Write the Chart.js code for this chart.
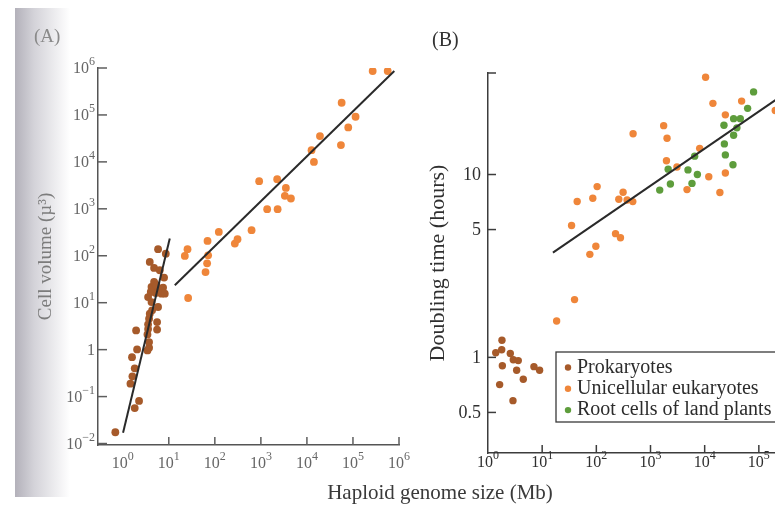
<!DOCTYPE html>
<html>
<head>
<meta charset="utf-8">
<script src="https://cdn.jsdelivr.net/npm/chart.js@4.4.1/dist/chart.umd.min.js"></script>
<style>
    html, body { margin: 0; padding: 0; width: 775px; height: 507px; overflow: hidden; background: #fff; }
    #pagina { position: relative; width: 775px; height: 507px; overflow: hidden; font-family: "Liberation Serif", serif; }
    /* sombra del lomo del libro escaneado */
    #sombra { position: absolute; left: 15px; top: 8px; width: 55px; height: 489px;
              background: linear-gradient(to right, #b3b1ba, #d4d3d9 35%, #ffffff); }
    #graficoA { position: absolute; left: 0; top: 0; }
    #graficoB { position: absolute; left: 413px; top: 0; }
    .rotulo { position: absolute; white-space: nowrap; line-height: 1; }
</style>
</head>
<body>
<div id="pagina">
    <div id="sombra"></div>
    <canvas id="graficoA" width="420" height="507"></canvas>
    <canvas id="graficoB" width="430" height="507"></canvas>
    <div class="rotulo" style="left:34px; top:26px; font-size:19px; color:#8a8a8a;">(A)</div>
    <div class="rotulo" style="left:432px; top:29px; font-size:20px; color:#333;">(B)</div>
    <div class="rotulo" style="left:440px; top:482px; font-size:21px; color:#3a3a3a; transform:translateX(-50%);">Haploid genome size (Mb)</div>
</div>
<script>
// Series
const SERIES = ['Prokaryotes', 'Unicellular eukaryotes', 'Root cells of land plants'];

// Panel A: volumen celular vs tamaño del genoma
const A_PROK_GENOMA = [0.69, 1.82, 2.26, 1.47, 1.62, 1.82, 1.59, 2.05, 1.95, 3.44, 3.73, 3.73, 3.44, 3.55, 3.55, 3.73, 3.86, 4.34, 5.57, 5.57,
                       5.85, 3.55, 4.21, 4.56, 4.21, 4.96, 5.21, 6.06, 6.94, 7.52, 8.19, 7.90, 4.79, 4.79, 3.86, 6.37, 5.85, 8.61, 4.06, 5.40];
const A_PROK_VOLUMEN = [0.0174, 0.057, 0.081, 0.188, 0.27, 0.40, 0.69, 1.01, 2.57, 0.96, 1.10, 1.45, 2.11, 2.74, 3.46, 4.57, 5.85, 6.88, 3.87, 2.67,
                        8.09, 13.2, 10.3, 18.4, 21.6, 25.5, 16.1, 20.0, 15.6, 21.0, 15.6, 34.3, 27.6, 55, 73.8, 49.1, 138, 111, 16.9, 23.5];
const A_EUK_GENOMA = [26.3, 22.3, 25.5, 62.8, 68, 71.5, 69.4, 122, 272, 311, 628, 918, 1370, 2310, 2260, 3490, 3320, 4490,
                      14200, 12600, 19200, 54800, 56800, 79000, 114000, 268000, 568000];
const A_EUK_VOLUMEN = [12.6, 99, 138, 45, 69, 102, 207, 322, 182, 225, 350, 3880, 982, 982, 4290, 2790, 1890, 1660,
                       10000, 17800, 35400, 22800, 182000, 54300, 91400, 863000, 863000];
const A_AJUSTE_PROK_X = [1.015, 10.5];
const A_AJUSTE_PROK_Y = [0.0169, 233];
const A_AJUSTE_EUK_X = [13.5, 791000];
const A_AJUSTE_EUK_Y = [23.5, 863000];

// Panel B: tiempo de duplicación vs tamaño del genoma
const B_PROK_GENOMA = [1.39, 1.81, 1.79, 1.84, 1.64, 2.58, 2.93, 3.62, 3.38, 4.48, 2.89, 7.05, 8.97];
const B_PROK_TIEMPO = [1.06, 1.24, 1.10, 0.90, 0.71, 1.05, 0.97, 0.96, 0.85, 0.76, 0.58, 0.89, 0.85];
const B_EUK_GENOMA = [18.5, 39.6, 75.9, 98, 34.9, 44.3, 86, 103.5, 226, 279, 260, 312, 370, 471, 477, 1750, 2020, 1970, 3080,
                      4720, 8090, 10400, 14200, 11900, 19100, 24100, 24100, 48100, 201000];
const B_EUK_TIEMPO = [1.58, 2.07, 3.66, 4.05, 5.26, 7.12, 7.41, 8.59, 4.75, 4.51, 7.33, 8.0, 7.26, 7.11, 16.7, 18.5, 15.8, 11.9, 11.0,
                      8.27, 13.9, 34.0, 24.5, 9.72, 7.98, 21.2, 10.2, 25.2, 22.4];
const B_RAIZ_GENOMA = [1480, 2330, 2120, 4920, 7330, 5830, 6540, 22700, 23100, 24100, 33300, 34200, 45500, 39400, 34200, 62100, 80000];
const B_RAIZ_TIEMPO = [8.22, 8.87, 10.7, 10.6, 10.0, 8.94, 12.6, 18.6, 14.7, 12.8, 11.3, 20.2, 20.2, 18.0, 16.4, 23.0, 28.3];
const B_AJUSTE_X = [15.8, 400000];
const B_AJUSTE_Y = [3.74, 29.3];

// Marcas de los ejes
const A_MARCAS_X = [10, 1e2, 1e3, 1e4, 1e5, 1e6];
const A_ETIQUETAS_X = [1, 10, 1e2, 1e3, 1e4, 1e5, 1e6];
const A_ETIQUETAS_Y = [1e-2, 1e-1, 1, 10, 1e2, 1e3, 1e4, 1e5, 1e6];
const B_MARCAS_X = [10, 1e2, 1e3, 1e4, 1e5, 1e6];
const B_ETIQUETAS_X = [1, 10, 1e2, 1e3, 1e4, 1e5, 1e6];
const B_ETIQUETAS_Y = [0.5, 1, 5, 10];

const MARRON = '#a65a2a';
const NARANJA = '#ef863a';
const VERDE = '#5e9d3c';
const LINEA = '#2a2a2a';
const SERIF = '"Liberation Serif", "Times New Roman", serif';

const pares = (xs, ys) => xs.map((x, i) => ({ x: x, y: ys[i] }));

// Dibuja "10" con exponente, o el número tal cual
function dibujarEtiqueta(ctx, valor, conf, x, y, alineacion) {
    const exp = Math.round(Math.log10(valor));
    let partes;
    if (conf.potencias && !(conf.unoPlano && exp === 0)) {
        partes = [['10', conf.tam, 0], [String(exp).replace('-', '\u2212'), conf.tamExp, conf.subida]];
    } else {
        partes = [[String(valor), conf.tam, 0]];
    }
    let ancho = 0;
    partes.forEach(p => { ctx.font = p[1] + 'px ' + SERIF; p.push(ctx.measureText(p[0]).width); ancho += p[3]; });
    let cursor = alineacion === 'centro' ? x - ancho / 2 : x - ancho;
    ctx.textAlign = 'left';
    ctx.textBaseline = 'alphabetic';
    partes.forEach(p => {
        ctx.font = p[1] + 'px ' + SERIF;
        ctx.fillText(p[0], cursor, y - p[2]);
        cursor += p[3];
    });
}

// Marcas hacia adentro y etiquetas con superíndice
const pluginEjes = {
    id: 'ejes',
    afterDatasetsDraw(chart, args, opts) {
        const ctx = chart.ctx;
        const area = chart.chartArea;
        ctx.save();
        ctx.strokeStyle = opts.color;
        ctx.fillStyle = opts.colorTexto;
        ctx.lineWidth = opts.grosor;

        const ex = chart.scales.x;
        opts.x.marcas.forEach(v => {
            const p = ex.getPixelForValue(v);
            ctx.beginPath(); ctx.moveTo(p, area.bottom); ctx.lineTo(p, area.bottom - opts.x.largo); ctx.stroke();
        });
        opts.x.etiquetas.forEach(v => dibujarEtiqueta(ctx, v, opts.x, ex.getPixelForValue(v), area.bottom + opts.x.distancia, 'centro'));

        const ey = chart.scales.y;
        const marcasY = opts.y.tapa ? opts.y.etiquetas.concat([ey.max]) : opts.y.etiquetas;
        marcasY.forEach(v => {
            const p = ey.getPixelForValue(v);
            ctx.beginPath(); ctx.moveTo(area.left, p); ctx.lineTo(area.left + opts.y.largo, p); ctx.stroke();
        });
        opts.y.etiquetas.forEach(v => dibujarEtiqueta(ctx, v, opts.y, area.left - opts.y.distancia, ey.getPixelForValue(v) + opts.y.tam * 0.33, 'derecha'));
        ctx.restore();
    }
};

// Recuadro de leyenda dentro del área del gráfico
const pluginLeyenda = {
    id: 'leyendaCaja',
    afterDraw(chart, args, opts) {
        if (!opts.mostrar) return;
        const ctx = chart.ctx;
        const x0 = chart.chartArea.left + opts.dx;
        const y0 = chart.chartArea.top + opts.dy;
        ctx.save();
        ctx.fillStyle = '#fff';
        ctx.fillRect(x0, y0, opts.ancho, opts.alto);
        ctx.strokeStyle = '#3a3a3a';
        ctx.lineWidth = 1.3;
        ctx.strokeRect(x0, y0, opts.ancho, opts.alto);
        ctx.font = opts.tam + 'px ' + SERIF;
        ctx.textBaseline = 'alphabetic';
        ctx.textAlign = 'left';
        opts.items.forEach((item, i) => {
            const yc = y0 + opts.primera + i * opts.paso;
            ctx.fillStyle = item.color;
            ctx.beginPath(); ctx.arc(x0 + 12, yc, 3.2, 0, 2 * Math.PI); ctx.fill();
            ctx.fillStyle = '#2c2c2c';
            ctx.fillText(item.texto, x0 + 21, yc + 5);
        });
        ctx.restore();
    }
};

function puntos(etiqueta, datos, color, radio) {
    return { label: etiqueta, data: datos, backgroundColor: color, borderWidth: 0, pointRadius: radio, pointHoverRadius: radio, order: 1 };
}

function recta(datos) {
    return { label: 'ajuste', data: datos, showLine: true, borderColor: LINEA, borderWidth: 2, pointRadius: 0, fill: false, order: 0 };
}

function escalaLog(min, max, extra) {
    return Object.assign({
        type: 'logarithmic', min: min, max: max,
        grid: { display: false },
        border: { display: true, color: '#555', width: 1.5 },
        ticks: { display: false }
    }, extra);
}

// Panel A
new Chart(document.getElementById('graficoA'), {
    type: 'scatter',
    data: {
        datasets: [
            recta(pares(A_AJUSTE_PROK_X, A_AJUSTE_PROK_Y)),
            recta(pares(A_AJUSTE_EUK_X, A_AJUSTE_EUK_Y)),
            puntos(SERIES[0], pares(A_PROK_GENOMA, A_PROK_VOLUMEN), MARRON, 3.9),
            puntos(SERIES[1], pares(A_EUK_GENOMA, A_EUK_VOLUMEN), NARANJA, 3.9)
        ]
    },
    options: {
        responsive: false,
        animation: false,
        layout: { padding: { top: 68, right: 21, bottom: 0, left: 0 } },
        plugins: {
            legend: { display: false },
            tooltip: { enabled: false },
            ejes: {
                color: '#5e5e5e', colorTexto: '#666', grosor: 1.5,
                x: { marcas: A_MARCAS_X, etiquetas: A_ETIQUETAS_X, largo: 8, distancia: 23, potencias: true, tam: 16, tamExp: 12, subida: 8 },
                y: { etiquetas: A_ETIQUETAS_Y, largo: 9, distancia: 3, potencias: true, unoPlano: true, tam: 16, tamExp: 12, subida: 8 }
            },
            leyendaCaja: { mostrar: false }
        },
        scales: {
            x: escalaLog(0.29, 1e6, { afterFit: s => { s.height = 62; } }),
            y: escalaLog(0.0093, 1e6, {
                title: { display: true, text: 'Cell volume (\u00b5\u00b3)', color: '#7c7c7c', font: { family: SERIF, size: 19 }, padding: { top: 35, bottom: 0 } },
                afterFit: s => { s.width = 98; }
            })
        }
    },
    plugins: [pluginEjes, pluginLeyenda]
});

// Panel B
new Chart(document.getElementById('graficoB'), {
    type: 'scatter',
    data: {
        datasets: [
            recta(pares(B_AJUSTE_X, B_AJUSTE_Y)),
            puntos(SERIES[0], pares(B_PROK_GENOMA, B_PROK_TIEMPO), MARRON, 3.7),
            puntos(SERIES[1], pares(B_EUK_GENOMA, B_EUK_TIEMPO), NARANJA, 3.7),
            puntos(SERIES[2], pares(B_RAIZ_GENOMA, B_RAIZ_TIEMPO), VERDE, 3.7)
        ]
    },
    options: {
        responsive: false,
        animation: false,
        layout: { padding: { top: 73, right: 30, bottom: 0, left: 0 } },
        plugins: {
            legend: { display: false },
            tooltip: { enabled: false },
            ejes: {
                color: '#3c3c3c', colorTexto: '#2f2f2f', grosor: 1.5,
                x: { marcas: B_MARCAS_X, etiquetas: B_ETIQUETAS_X, largo: 8, distancia: 14, potencias: true, tam: 16, tamExp: 12, subida: 8 },
                y: { etiquetas: B_ETIQUETAS_Y, tapa: true, largo: 8, distancia: 7, potencias: false, tam: 18 }
            },
            leyendaCaja: {
                mostrar: true, dx: 68, dy: 279, ancho: 232, alto: 70, primera: 15.5, paso: 21.3, tam: 20,
                items: [
                    { texto: SERIES[0], color: MARRON },
                    { texto: SERIES[1], color: NARANJA },
                    { texto: SERIES[2], color: VERDE }
                ]
            }
        },
        scales: {
            x: escalaLog(1, 1e6, { border: { display: true, color: '#3c3c3c', width: 1.5 }, afterFit: s => { s.height = 54; } }),
            y: escalaLog(0.319, 35.9, {
                border: { display: true, color: '#3c3c3c', width: 1.5 },
                title: { display: true, text: 'Doubling time (hours)', color: '#2f2f2f', font: { family: SERIF, size: 22 }, padding: { top: 12, bottom: 0 } },
                afterFit: s => { s.width = 75; }
            })
        }
    },
    plugins: [pluginEjes, pluginLeyenda]
});
</script>
</body>
</html>
